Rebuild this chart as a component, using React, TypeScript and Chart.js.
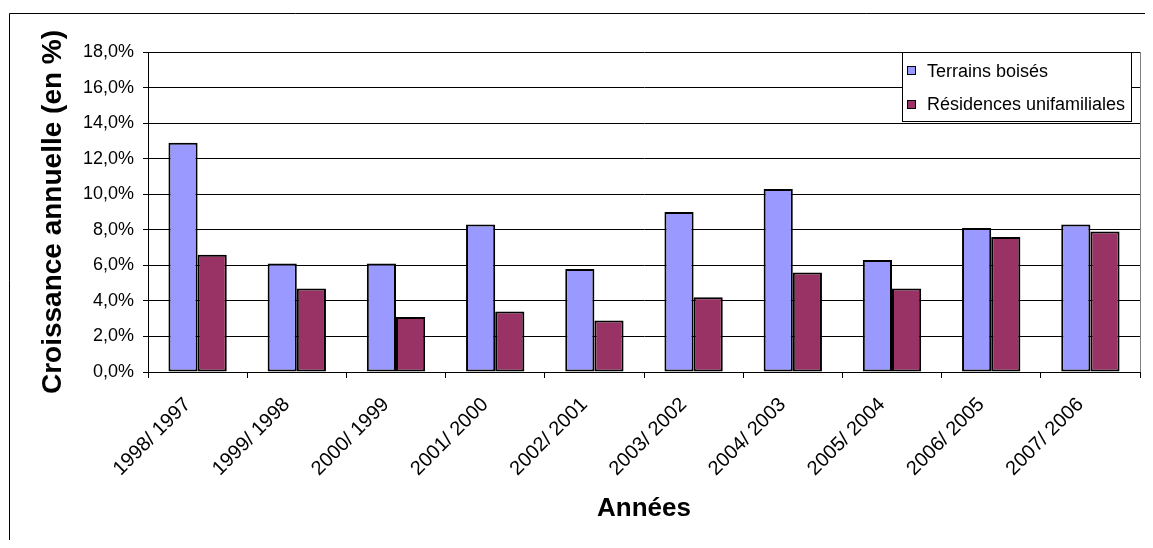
import React, { useEffect, useRef } from 'react';
import { Chart, registerables } from 'chart.js';

Chart.register(...registerables);

const categories = [
  '1998/ 1997', '1999/ 1998', '2000/ 1999', '2001/ 2000', '2002/ 2001',
  '2003/ 2002', '2004/ 2003', '2005/ 2004', '2006/ 2005', '2007/ 2006',
];
const terrainsBoises = [12.9, 6.1, 6.1, 8.3, 5.8, 9.0, 10.3, 6.3, 8.1, 8.3];
const residencesUnifamiliales = [6.6, 4.7, 3.1, 3.4, 2.9, 4.2, 5.6, 4.7, 7.6, 7.9];
const seriesLabels = ['Terrains boisés', 'Résidences unifamiliales'];
const yMin = 0;
const yMax = 18;
const yStep = 2;

const FAMILY = "'Liberation Sans', Arial, Helvetica, sans-serif";

const framePlugin = {
  id: 'frameAndLegend',
  afterDraw(chart: any) {
    const { ctx, chartArea, width } = chart;
    ctx.save();
    // outer frame
    ctx.strokeStyle = '#000';
    ctx.lineWidth = 1;
    ctx.beginPath();
    ctx.moveTo(1.5, chart.height);
    ctx.lineTo(1.5, 5.5);
    ctx.lineTo(width - 0.5, 5.5);
    ctx.lineTo(width - 0.5, chart.height);
    ctx.stroke();
    // plot area right border
    ctx.strokeStyle = '#808080';
    ctx.beginPath();
    ctx.moveTo(Math.round(chartArea.right) + 0.5, chartArea.top);
    ctx.lineTo(Math.round(chartArea.right) + 0.5, chartArea.bottom);
    ctx.stroke();
    // legend
    const lx = Math.round(chartArea.right) - 238;
    const ly = Math.round(chartArea.top);
    const lw = 229;
    const lh = 69;
    ctx.fillStyle = '#fff';
    ctx.fillRect(lx, ly, lw, lh);
    ctx.strokeStyle = '#000';
    ctx.strokeRect(lx + 0.5, ly + 0.5, lw, lh);
    ctx.font = `18px ${FAMILY}`;
    ctx.textBaseline = 'alphabetic';
    ctx.textAlign = 'left';
    chart.data.datasets.forEach((ds: any, i: number) => {
      const sy = ly + 14 + i * 34;
      ctx.fillStyle = ds.backgroundColor;
      ctx.fillRect(lx + 5, sy, 9, 9);
      ctx.strokeStyle = '#000';
      ctx.strokeRect(lx + 5.5, sy + 0.5, 8, 8);
      ctx.fillStyle = '#000';
      ctx.fillText(ds.label, lx + 25, ly + 25 + i * 33);
    });
    ctx.restore();
  },
};

export default function App() {
  const ref = useRef<HTMLCanvasElement>(null);
  useEffect(() => {
    if (!ref.current) return;
    const chart = new Chart(ref.current, {
      type: 'bar',
      data: {
        labels: categories,
        datasets: [
          {
            label: seriesLabels[0],
            data: terrainsBoises,
            backgroundColor: '#9999FF',
            borderColor: '#000',
            borderWidth: 2,
            borderSkipped: false,
            categoryPercentage: 0.588,
            barPercentage: 1,
          },
          {
            label: seriesLabels[1],
            data: residencesUnifamiliales,
            backgroundColor: '#993366',
            borderColor: '#000',
            borderWidth: 2,
            borderSkipped: false,
            categoryPercentage: 0.588,
            barPercentage: 1,
          },
        ],
      },
      options: {
        responsive: false,
        animation: false,
        devicePixelRatio: 1,
        layout: { padding: { top: 44, right: 13, left: 0, bottom: 0 } },
        plugins: {
          legend: { display: false },
          tooltip: { enabled: false },
        },
        scales: {
          x: {
            offset: true,
            grid: { offset: true, drawOnChartArea: false, tickLength: 6, color: '#000' },
            border: { display: true, color: '#000' },
            ticks: {
              minRotation: 45,
              maxRotation: 45,
              autoSkip: false,
              padding: 15,
              labelOffset: -10,
              color: '#000',
              font: { size: 20, family: FAMILY },
            },
            title: {
              display: true,
              text: 'Années',
              color: '#000',
              font: { size: 26, weight: 'bold', family: FAMILY },
              padding: { top: 0, bottom: 24 },
            },
            afterFit: (s: any) => { s.height = 176; },
          },
          y: {
            min: yMin,
            max: yMax,
            grid: { color: '#000', tickLength: 5 },
            border: { display: true, color: '#000' },
            ticks: {
              stepSize: yStep,
              padding: 9,
              color: '#000',
              font: { size: 18, family: FAMILY },
              callback: (v: any) => Number(v).toFixed(1).replace('.', ',') + '%',
            },
            title: {
              display: true,
              text: 'Croissance annuelle (en %)',
              color: '#000',
              font: { size: 28, weight: 'bold', family: FAMILY },
              padding: { top: 28, bottom: 0 },
            },
            afterFit: (s: any) => { s.width = 140; },
          },
        },
      },
      plugins: [framePlugin],
    } as any);
    return () => chart.destroy();
  }, []);
  return (
    <div style={{ width: 1145, height: 540, marginBottom: -8 }}>
      <canvas ref={ref} width={1145} height={540} style={{ display: 'block' }} />
    </div>
  );
}
